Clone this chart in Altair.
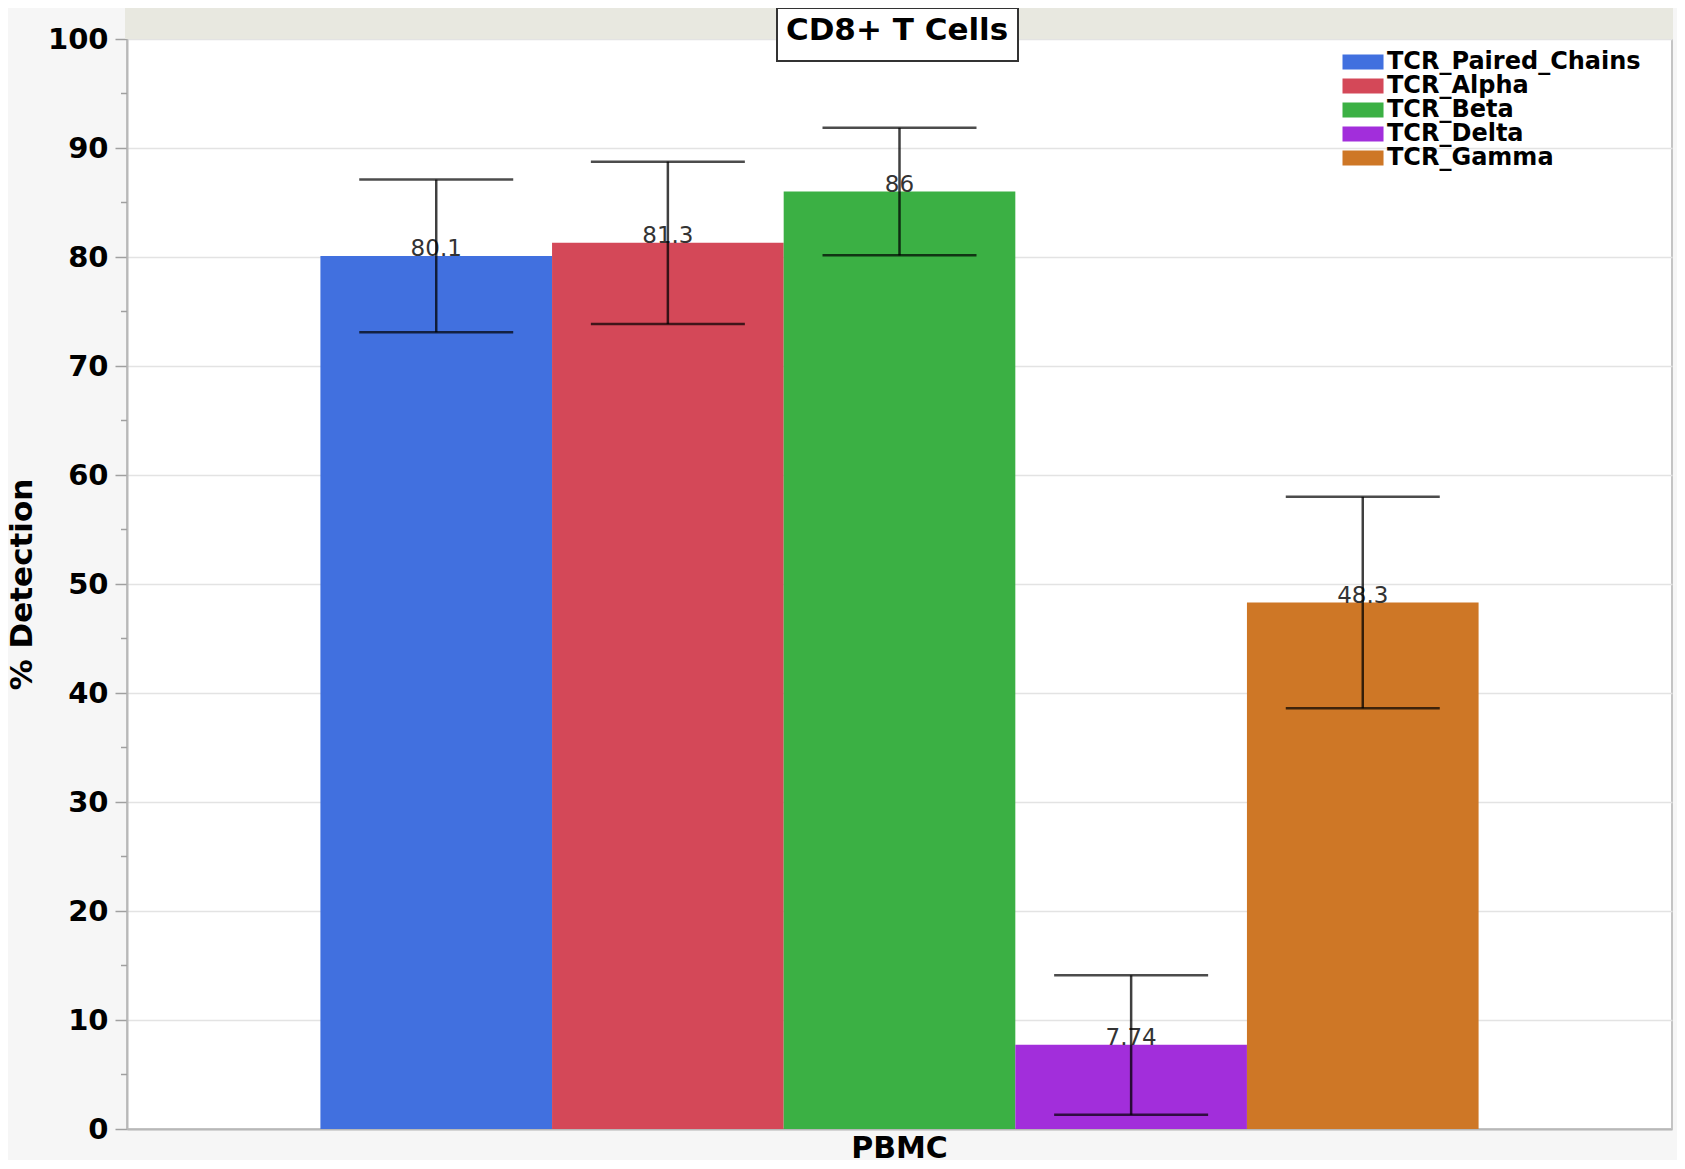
import altair as alt
import pandas as pd

# ---- data ----
series = ["TCR_Paired_Chains", "TCR_Alpha", "TCR_Beta", "TCR_Delta", "TCR_Gamma"]
values = [80.1, 81.3, 86, 7.74, 48.3]
lower = [73.1, 73.85, 80.15, 1.3, 38.6]
upper = [87.1, 88.75, 91.85, 14.1, 58.0]
colors = ["#4170DF", "#D44858", "#3BB044", "#A22EDB", "#CE7726"]
group = "PBMC"
title_text = "CD8+ T Cells"
y_ticks = [0, 10, 20, 30, 40, 50, 60, 70, 80, 90, 100]
y_minor = [5, 15, 25, 35, 45, 55, 65, 75, 85, 95]

FONT = "DejaVu Sans"
W, H = 1545, 1090

df = pd.DataFrame({
    "group": [group] * len(series),
    "series": series,
    "value": values,
    "lower": lower,
    "upper": upper,
})
minor_df = pd.DataFrame({"v": y_minor})
title_df = pd.DataFrame({"t": [title_text]})

x_enc = alt.X("group:N", scale=alt.Scale(paddingInner=0, paddingOuter=0.167),
              axis=alt.Axis(title=None, ticks=False, labelAngle=0, labelFont=FONT,
                            labelFontSize=30, labelFontWeight="bold", labelColor="black",
                            labelPadding=4, domainColor="#b8b8b8", domainWidth=2, grid=False))
xo_enc = alt.XOffset("series:N", sort=series, scale=alt.Scale(paddingInner=0, paddingOuter=0))
y_scale = alt.Scale(domain=[0, 100], nice=False, zero=True)
y_axis = alt.Axis(values=y_ticks, tickSize=12, tickColor="#a0a0a0", tickWidth=1.5,
                  domainColor="#b8b8b8", domainWidth=2, labelFont=FONT, labelFontSize=29,
                  labelFontWeight="bold", labelColor="black", labelPadding=7,
                  grid=True, gridColor="#e3e3e3", gridWidth=1.5,
                  title="% Detection", titleFont=FONT, titleFontSize=31,
                  titleFontWeight="bold", titleColor="black", titleX=-96, titleY=545,
                  titleAngle=270, titleBaseline="alphabetic")

base = alt.Chart(df)

bars = base.mark_bar(opacity=1, strokeWidth=0).encode(
    x=x_enc,
    xOffset=xo_enc,
    y=alt.Y("value:Q", scale=y_scale, axis=y_axis),
    color=alt.Color("series:N", sort=series,
                    scale=alt.Scale(domain=series, range=colors),
                    legend=alt.Legend(title=None, orient="none", legendX=1211, legendY=11,
                                      symbolType="M-1,-1H4.47V1H-1Z", symbolSize=225,
                                      symbolStrokeWidth=0, symbolOpacity=1,
                                      labelFont=FONT, labelFontSize=24, labelFontWeight="bold",
                                      labelColor="black", labelOffset=25, rowPadding=0,
                                      padding=0, labelLimit=400)),
)

labels = base.mark_text(font=FONT, fontSize=23, color="#333333", baseline="alphabetic",
                        align="center").encode(
    x="group:N", xOffset=xo_enc, y="value:Q", text="value:N")

err_rule = base.mark_rule(color="black", opacity=0.75, strokeWidth=2.5).encode(
    x="group:N", xOffset=xo_enc, y="lower:Q", y2="upper:Q")
cap_hi = base.mark_tick(color="black", opacity=0.7, thickness=2.5, size=154,
                        orient="horizontal").encode(x="group:N", xOffset=xo_enc, y="upper:Q")
cap_lo = base.mark_tick(color="black", opacity=0.7, thickness=2.5, size=154,
                        orient="horizontal").encode(x="group:N", xOffset=xo_enc, y="lower:Q")

minor = alt.Chart(minor_df).mark_rule(color="#a0a0a0", strokeWidth=1.5).encode(
    y="v:Q", x=alt.value(-6), x2=alt.value(0))

band = alt.Chart(title_df).mark_rect(color="#e8e8e0").encode(
    x=alt.value(-2), x2=alt.value(W + 1), y=alt.value(-34), y2=alt.value(0))
tbox = alt.Chart(title_df).mark_rect(fill="white", stroke="#333333", strokeWidth=2).encode(
    x=alt.value(650), x2=alt.value(891), y=alt.value(-31), y2=alt.value(22))
ttext = alt.Chart(title_df).mark_text(font=FONT, fontSize=31, fontWeight="bold", color="black",
                                      align="center", baseline="alphabetic").encode(
    x=alt.value(770), y=alt.value(1), text="t:N")

chart = alt.layer(band, bars, labels, err_rule, cap_hi, cap_lo, minor, tbox, ttext).properties(
    width=W, height=H,
    autosize=alt.AutoSizeParams(type="none"),
    padding={"left": 119, "top": 31, "right": 5, "bottom": 31},
    background="#f6f6f6",
).configure_view(stroke="#c4c4c4", strokeWidth=2, fill="white")

chart.save("out.html", embed_options={"renderer": "svg", "actions": False})
